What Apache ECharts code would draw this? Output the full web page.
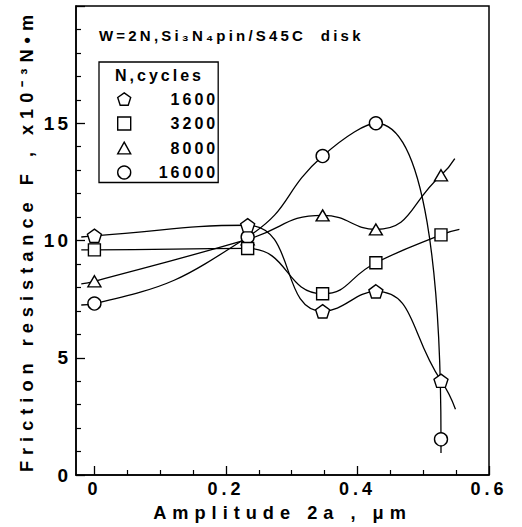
<!DOCTYPE html>
<html>
<head>
<meta charset="utf-8">
<title>Friction resistance vs amplitude</title>
<script src="https://cdn.jsdelivr.net/npm/echarts@6/dist/echarts.min.js"></script>
<style>
  html, body { margin: 0; padding: 0; background: #fff; }
  #chart { width: 522px; height: 527px; }
  /* the scan uses widely spaced lettering; pick the role by font size */
  #chart text[style*="19px"] { letter-spacing: 3px; }
  #chart text[style*="18px"] { letter-spacing: 4px; }
  #chart text[style*="18.2px"] { letter-spacing: 6px; }
  #chart text[style*="16px"] { letter-spacing: 3px; }
  #chart text[style*="15px"] { letter-spacing: 3.2px; }
</style>
</head>
<body>
<div id="chart"></div>
<script>
// amplitude 2a (um) of the measured points
var amplitude = [0, 0.233, 0.347, 0.428, 0.527];

// friction resistance F (x10^-3 N.m) per number of cycles
var f1600 = [10.2, 10.65, 6.98, 7.83, 4.02];
var f3200 = [9.6, 9.66, 7.73, 9.05, 10.24];
var f8000 = [8.26, 10.05, 11.07, 10.47, 12.78];
var f16000 = [7.31, 10.15, 13.6, 15.0, 1.52];

// where the drawn curves start and stop beyond the points [x, F]
var tail1600 = [[-0.02, 10.15], [0.549, 2.8]];
var tail3200 = [[-0.02, 9.6], [0.555, 10.47]];
var tail8000 = [[-0.02, 8.15], [0.548, 13.49]];
var tail16000 = [[-0.02, 7.25], [0.527, 0.94]];

var xMajor = [0, 0.2, 0.4, 0.6];
var xMinor = [0.05, 0.1, 0.15, 0.25, 0.3, 0.35, 0.45, 0.5, 0.55];

var FONT = '"Liberation Sans", Arial, sans-serif';
var pentagon = 'path://M0,-10L9.51,-3.09L5.88,8.09L-5.88,8.09L-9.51,-3.09Z';

function buildData(ys, tail) {
  var out = [{ value: tail[0], symbol: 'none' }];
  for (var i = 0; i < amplitude.length; i++) {
    out.push([amplitude[i], ys[i]]);
  }
  out.push({ value: tail[1], symbol: 'none' });
  return out;
}

function makeSeries(name, ys, tail, symbol, size, z) {
  return {
    name: name,
    type: 'line',
    smooth: 0.5,
    z: z,
    symbol: symbol,
    symbolSize: size,
    symbolKeepAspect: true,
    showAllSymbol: true,
    lineStyle: { color: '#000', width: 1.3 },
    itemStyle: { color: '#fff', borderColor: '#000', borderWidth: 1.4 },
    emphasis: { disabled: true },
    data: buildData(ys, tail)
  };
}

var myChart = echarts.init(document.getElementById('chart'), null, { renderer: 'svg' });

myChart.setOption({
  animation: false,
  backgroundColor: '#fff',
  grid: {
    left: 76, right: 33, top: 6, bottom: 52,
    show: true, borderColor: '#000', borderWidth: 1.5
  },
  xAxis: [
    {
      type: 'value',
      min: -0.028,
      max: 0.6,
      position: 'bottom',
      name: 'Amplitude 2a , \u03bcm',
      nameLocation: 'middle',
      nameGap: 29,
      nameTextStyle: { fontFamily: FONT, fontWeight: 'bold', fontSize: 18.2, color: '#000' },
      axisLine: { onZero: false, lineStyle: { color: '#000', width: 1.5 } },
      axisTick: { inside: true, length: 9, customValues: xMajor, lineStyle: { color: '#000', width: 1.3 } },
      axisLabel: {
        customValues: xMajor,
        margin: 5,
        fontFamily: FONT, fontWeight: 'bold', fontSize: 18, color: '#000',
        formatter: function (v) { return v === 0 ? '0' : v.toFixed(1); }
      },
      splitLine: { show: false }
    },
    {
      type: 'value',
      min: -0.028,
      max: 0.6,
      position: 'bottom',
      axisLine: { show: false, onZero: false },
      axisTick: { inside: true, length: 5, customValues: xMinor, lineStyle: { color: '#000', width: 1.2 } },
      axisLabel: { show: false },
      splitLine: { show: false }
    }
  ],
  yAxis: {
    type: 'value',
    min: 0,
    max: 20,
    interval: 5,
    name: 'Friction resistance F , x10\u207b\u00b3N\u2022m',
    nameLocation: 'middle',
    nameGap: 40,
    nameTextStyle: { fontFamily: FONT, fontWeight: 'bold', fontSize: 18.2, color: '#000' },
    axisLine: { show: true, onZero: false, lineStyle: { color: '#000', width: 1.5 } },
    axisTick: { show: true, inside: true, length: 9, lineStyle: { color: '#000', width: 1.3 } },
    minorTick: { show: true, splitNumber: 5, length: 5, lineStyle: { color: '#000', width: 1.2 } },
    axisLabel: {
      margin: 5,
      fontFamily: FONT, fontWeight: 'bold', fontSize: 19, color: '#000',
      formatter: function (v) { return v === 20 ? '' : String(v); }
    },
    splitLine: { show: false }
  },
  legend: {
    orient: 'vertical',
    left: 99,
    top: 62,
    padding: [29, 15, 2, 18],
    itemWidth: 13,
    itemHeight: 13,
    itemGap: 8.5,
    borderColor: '#000',
    borderWidth: 1.3,
    selectedMode: false,
    itemStyle: { color: '#fff', borderColor: '#000', borderWidth: 1.4 },
    textStyle: { fontFamily: FONT, fontWeight: 'bold', fontSize: 16, color: '#000', padding: [0, 0, 0, 23] },
    formatter: function (name) { return name.length < 5 ? '\u2007' + name : name; },
    data: [
      { name: '1600', icon: pentagon },
      { name: '3200', icon: 'path://M0,0L10,0L10,10L0,10Z' },
      { name: '8000', icon: 'path://M5,0L10,9L0,9Z' },
      { name: '16000', icon: 'circle' }
    ]
  },
  graphic: [
    {
      type: 'text', left: 99, top: 28,
      style: { text: 'W=2N,Si\u2083N\u2084pin/S45C  disk', font: 'bold 15px ' + FONT, fill: '#000' }
    },
    {
      type: 'text', left: 115, top: 67,
      style: { text: 'N,cycles', font: 'bold 16px ' + FONT, fill: '#000' }
    }
  ],
  series: [
    makeSeries('1600', f1600, tail1600, pentagon, 14, 5),
    makeSeries('3200', f3200, tail3200, 'rect', 12, 4),
    makeSeries('8000', f8000, tail8000, 'triangle', [13, 11], 2),
    makeSeries('16000', f16000, tail16000, 'circle', 13, 3)
  ]
});

window.addEventListener('resize', function () {
  myChart.resize();
});
</script>
</body>
</html>
